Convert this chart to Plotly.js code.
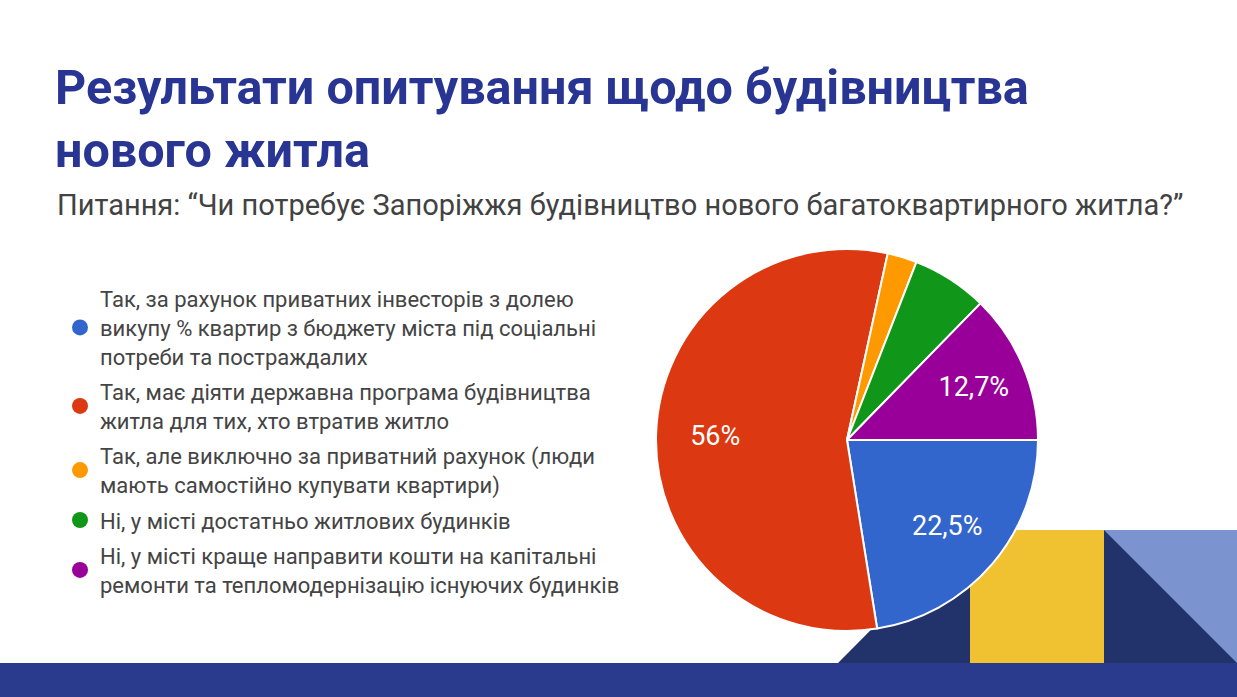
<!DOCTYPE html>
<html>
<head>
<meta charset="utf-8">
<script src="https://cdn.plot.ly/plotly-3.0.1.min.js"></script>
<style>
  html, body { margin: 0; padding: 0; background: #fff; }
  #survey-plot { width: 1237px; height: 697px; }
</style>
</head>
<body>
<div id="survey-plot"></div>
<script>
const answers = [
  'Так, за рахунок приватних інвесторів з долею<br>викупу % квартир з бюджету міста під соціальні<br>потреби та постраждалих',
  'Так, має діяти державна програма будівництва<br>житла для тих, хто втратив житло',
  'Так, але виключно за приватний рахунок (люди<br>мають самостійно купувати квартири)',
  'Ні, у місті достатньо житлових будинків',
  'Ні, у місті краще направити кошти на капітальні<br>ремонти та тепломодернізацію існуючих будинків'
];
const shares = [22.5, 56, 2.5, 6.4, 12.7];
const shareLabels = ['22,5%', '56%', '', '', '12,7%'];
const sliceColors = ['#3366cc', '#dc3912', '#ff9900', '#109618', '#990099'];

const W = 1237, H = 697;
const px = (x) => x / W;
const py = (y) => 1 - y / H;

function drawSurveyPlot() {
  const pieDomain = { x: [px(656), px(1038)], y: [py(631), py(249)] };

  let pie = {
    type: 'pie',
    values: shares,
    labels: answers,
    textinfo: 'none',
    sort: false,
    direction: 'clockwise',
    rotation: 90,
    marker: { colors: sliceColors, line: { color: '#ffffff', width: 2 } },
    domain: pieDomain,
    showlegend: false,
    hoverinfo: 'label+percent'
  };

  /* transparent ring on top, only to push the percent labels outwards */
  let pieLabels = {
    type: 'pie',
    values: shares,
    labels: answers,
    text: shareLabels,
    textinfo: 'text',
    textposition: 'inside',
    insidetextorientation: 'horizontal',
    textfont: { family: 'Roboto, Arial, sans-serif', size: 27, color: '#ffffff' },
    hole: 0.38,
    sort: false,
    direction: 'clockwise',
    rotation: 90,
    marker: { colors: sliceColors.map(() => 'rgba(0,0,0,0)'), line: { width: 0 } },
    domain: pieDomain,
    showlegend: false,
    hoverinfo: 'skip'
  };

  /* legend entries with round markers */
  let legendItems = answers.map((name, i) => ({
    type: 'scatter',
    mode: 'markers',
    x: [null], y: [null],
    name: name,
    legendgroup: 'g' + i,
    marker: { color: sliceColors[i], size: 18, symbol: 'circle' },
    hoverinfo: 'skip'
  }));

  let navy = '#22336b';
  let layout = {
    width: W, height: H,
    autosize: false,
    margin: { l: 0, r: 0, t: 0, b: 0 },
    paper_bgcolor: '#ffffff',
    plot_bgcolor: 'rgba(0,0,0,0)',
    font: { family: 'Roboto, Arial, sans-serif', color: '#444444' },
    title: {
      text: '<b>Результати опитування щодо будівництва<br>нового житла</b>',
      x: px(55), xanchor: 'left', xref: 'container',
      y: py(104), yanchor: 'top', yref: 'container',
      font: { family: 'Roboto, Arial, sans-serif', size: 48.5, color: '#283593' }
    },
    annotations: [{
      text: 'Питання: “Чи потребує Запоріжжя будівництво нового багатоквартирного житла?”',
      xref: 'paper', yref: 'paper',
      x: px(55), y: py(205), xanchor: 'left', yanchor: 'middle',
      showarrow: false,
      font: { family: 'Roboto, Arial, sans-serif', size: 29, color: '#424242' }
    }],
    xaxis: { visible: false, fixedrange: true },
    yaxis: { visible: false, fixedrange: true },
    showlegend: true,
    legend: {
      x: px(60), xanchor: 'left',
      y: py(278), yanchor: 'top',
      bgcolor: 'rgba(0,0,0,0)',
      font: { family: 'Roboto, Arial, sans-serif', size: 22, color: '#444444' },
      tracegroupgap: 4,
      itemclick: false, itemdoubleclick: false
    },
    shapes: [
      { type: 'path', layer: 'below', xref: 'paper', yref: 'paper', line: { width: 0 }, fillcolor: navy,
        path: `M ${px(838)} ${py(663)} L ${px(970)} ${py(530)} L ${px(970)} ${py(663)} Z` },
      { type: 'rect', layer: 'below', xref: 'paper', yref: 'paper', line: { width: 0 }, fillcolor: '#f0c232',
        x0: px(970), x1: px(1104), y0: py(663), y1: py(530) },
      { type: 'rect', layer: 'below', xref: 'paper', yref: 'paper', line: { width: 0 }, fillcolor: '#7b93cf',
        x0: px(1104), x1: 1, y0: py(663), y1: py(530) },
      { type: 'path', layer: 'below', xref: 'paper', yref: 'paper', line: { width: 0 }, fillcolor: navy,
        path: `M ${px(1104)} ${py(530)} L 1 ${py(663)} L ${px(1104)} ${py(663)} Z` },
      { type: 'rect', layer: 'below', xref: 'paper', yref: 'paper', line: { width: 0 }, fillcolor: '#2a3a8c',
        x0: 0, x1: 1, y0: 0, y1: py(663) }
    ]
  };

  Plotly.newPlot('survey-plot', [pie, pieLabels].concat(legendItems), layout, { staticPlot: true });
}

window.addEventListener('DOMContentLoaded', drawSurveyPlot, false);
</script>
</body>
</html>
